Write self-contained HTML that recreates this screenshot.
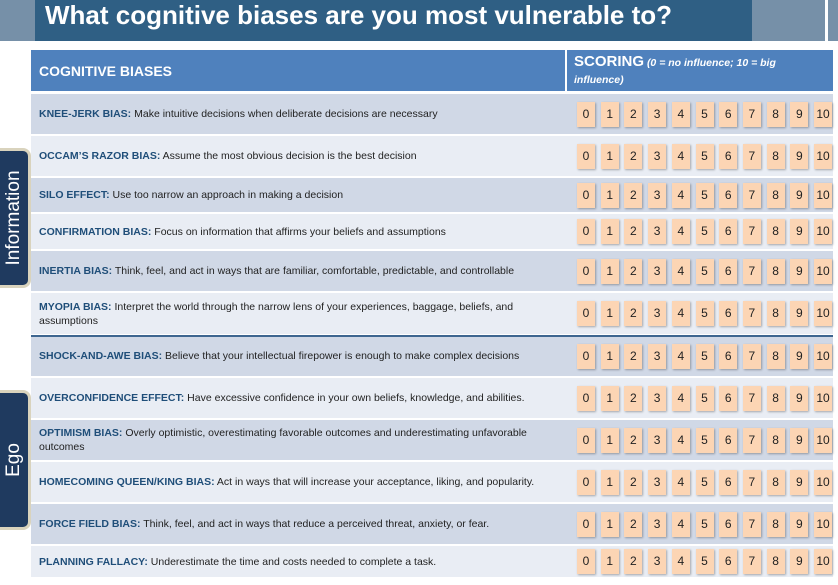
<!DOCTYPE html>
<html><head><meta charset="utf-8"><style>
body{margin:0;width:838px;height:585px;background:#fff;position:relative;overflow:hidden;font-family:"Liberation Sans",sans-serif}
.a{position:absolute}
.row{position:absolute;left:31px;width:802px}
.txt{position:absolute;left:8px;width:520px;font-size:10.5px;color:#222;line-height:14px;top:50%;transform:translateY(-50%)}
.txt b{color:#1f4e79}
.box{position:absolute;width:18px;height:25px;background:#fcd5b4;box-shadow:1px 1px 2px rgba(0,0,0,.3);font-size:12px;color:#222;text-align:center;line-height:25px}
.side{position:absolute;left:0;width:28px;background:#1f3a5f;border:3px solid #d9d3bd;border-left:none;border-radius:0 8px 8px 0;color:#fff;font-size:19px}
.side span{position:absolute;left:50%;top:50%;transform:translate(-50%,-50%) rotate(-90deg);white-space:nowrap}
</style></head><body>
<div class="a" style="left:0;top:0;width:838px;height:41px;background:#7690a8"></div>
<div class="a" style="left:825px;top:0;width:3px;height:41px;background:#fff"></div>
<div class="a" style="left:35px;top:0;width:717px;height:41px;background:#2f5f84;color:#fff;font-size:26px;font-weight:bold;line-height:30px;padding-left:10px;box-sizing:border-box;white-space:nowrap;overflow:hidden">What cognitive biases are you most vulnerable to?</div>
<div class="a" style="left:31px;top:50px;width:802px;height:41px;background:#4f81bd"></div>
<div class="a" style="left:565px;top:50px;width:2px;height:528px;background:#fff"></div>
<div class="a" style="left:39px;top:63px;color:#fff;font-weight:bold;font-size:14px">COGNITIVE BIASES</div>
<div class="a" style="left:574px;top:53px;color:#fff;font-size:10.5px;line-height:17px;width:250px"><b style="font-size:15px">SCORING</b> <i><b>(0 = no influence; 10 = big influence)</b></i></div>
<div id="rows"></div>
<div class="a" style="left:31px;top:335px;width:802px;height:2px;background:#3e6690"></div>
<div class="side" style="top:148px;height:134px"><span>Information</span></div>
<div class="side" style="top:390px;height:134px"><span>Ego</span></div>
<script>
var b=[93,135,177,213,250,292,335,377,419,461,503,545,578];
var t=[["KNEE-JERK BIAS:","Make intuitive decisions when deliberate decisions are necessary"],
["OCCAM’S  RAZOR BIAS:","Assume the most obvious decision is the best decision"],
["SILO EFFECT:","Use too narrow an approach in making a decision"],
["CONFIRMATION BIAS:","Focus on information that affirms your beliefs and assumptions"],
["INERTIA BIAS:","Think, feel, and act in ways that are familiar, comfortable, predictable, and controllable"],
["MYOPIA BIAS:","Interpret the world through the narrow lens of your experiences, baggage, beliefs, and assumptions"],
["SHOCK-AND-AWE BIAS:","Believe that your intellectual firepower is enough to make complex decisions"],
["OVERCONFIDENCE EFFECT:","Have excessive confidence in your own beliefs, knowledge, and abilities."],
["OPTIMISM BIAS:","Overly optimistic, overestimating favorable outcomes and underestimating unfavorable outcomes"],
["HOMECOMING QUEEN/KING BIAS:","Act in ways that will increase your acceptance, liking, and popularity."],
["FORCE FIELD BIAS:","Think, feel, and act in ways that reduce a perceived threat, anxiety, or fear."],
["PLANNING FALLACY:","Underestimate the time and costs needed to complete a task."]];
var h="";
for(var i=0;i<12;i++){var y=b[i]+1,hh=b[i+1]-b[i]-2;
h+='<div class="row" style="top:'+y+'px;height:'+hh+'px;background:'+(i%2==0?'#d0d8e6':'#e9edf4')+'"><div class="txt"><b>'+t[i][0]+'</b> '+t[i][1]+'</div></div>';
var c=y+hh/2-12.5;
for(var k=0;k<=10;k++){h+='<div class="box" style="left:'+(577+k*23.7)+'px;top:'+c+'px">'+k+'</div>';}}
document.getElementById("rows").innerHTML=h;
</script>
</body></html>
